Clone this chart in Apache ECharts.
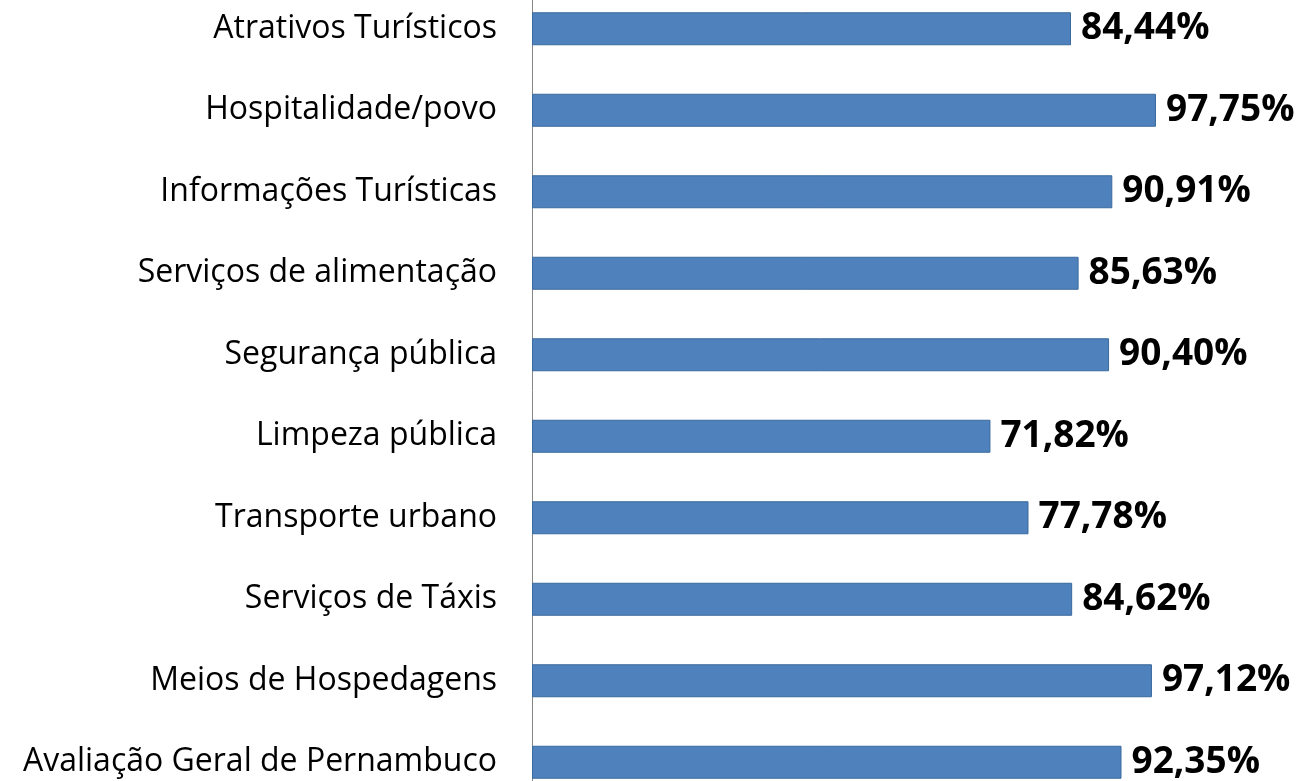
<!DOCTYPE html>
<html>
<head>
<meta charset="utf-8">
<script src="https://cdn.jsdelivr.net/npm/echarts@6/dist/echarts.min.js"></script>
<style>
  html, body { margin: 0; padding: 0; background: #fff; }
  #chart { width: 1298px; height: 781px; }
</style>
</head>
<body>
<div id="chart"></div>
<script>
// categorias, de cima para baixo
var categorias = [
  "Atrativos Turísticos",
  "Hospitalidade/povo",
  "Informações Turísticas",
  "Serviços de alimentação",
  "Segurança pública",
  "Limpeza pública",
  "Transporte urbano",
  "Serviços de Táxis",
  "Meios de Hospedagens",
  "Avaliação Geral de Pernambuco"
];
// percentuais de satisfação
var valores = [84.44, 97.75, 90.91, 85.63, 90.40, 71.82, 77.78, 84.62, 97.12, 92.35];

var chart = echarts.init(document.getElementById("chart"));
chart.setOption({
  animation: false,
  grid: {
    left: 532,
    width: 766,
    top: -12,
    height: 815,
    containLabel: false,
    outerBoundsMode: "none"
  },
  xAxis: {
    type: "value",
    min: 0,
    max: 120,
    show: false
  },
  yAxis: {
    type: "category",
    inverse: true,
    data: categorias,
    axisLine: {
      show: true,
      lineStyle: { color: "#868686", width: 1 }
    },
    axisTick: { show: false },
    axisLabel: {
      margin: 35,
      fontFamily: "Open Sans",
      fontSize: 32,
      color: "#000"
    }
  },
  series: [
    {
      type: "bar",
      data: valores,
      barWidth: 33,
      itemStyle: {
        color: "#4F81BD",
        borderColor: "#3B6A9E",
        borderWidth: 1
      },
      label: {
        show: true,
        position: "right",
        distance: 10,
        fontFamily: "Open Sans",
        fontWeight: "bold",
        fontSize: 37,
        color: "#000",
        formatter: function (p) {
          return p.value.toFixed(2).replace(".", ",") + "%";
        }
      }
    }
  ]
});
</script>
</body>
</html>
